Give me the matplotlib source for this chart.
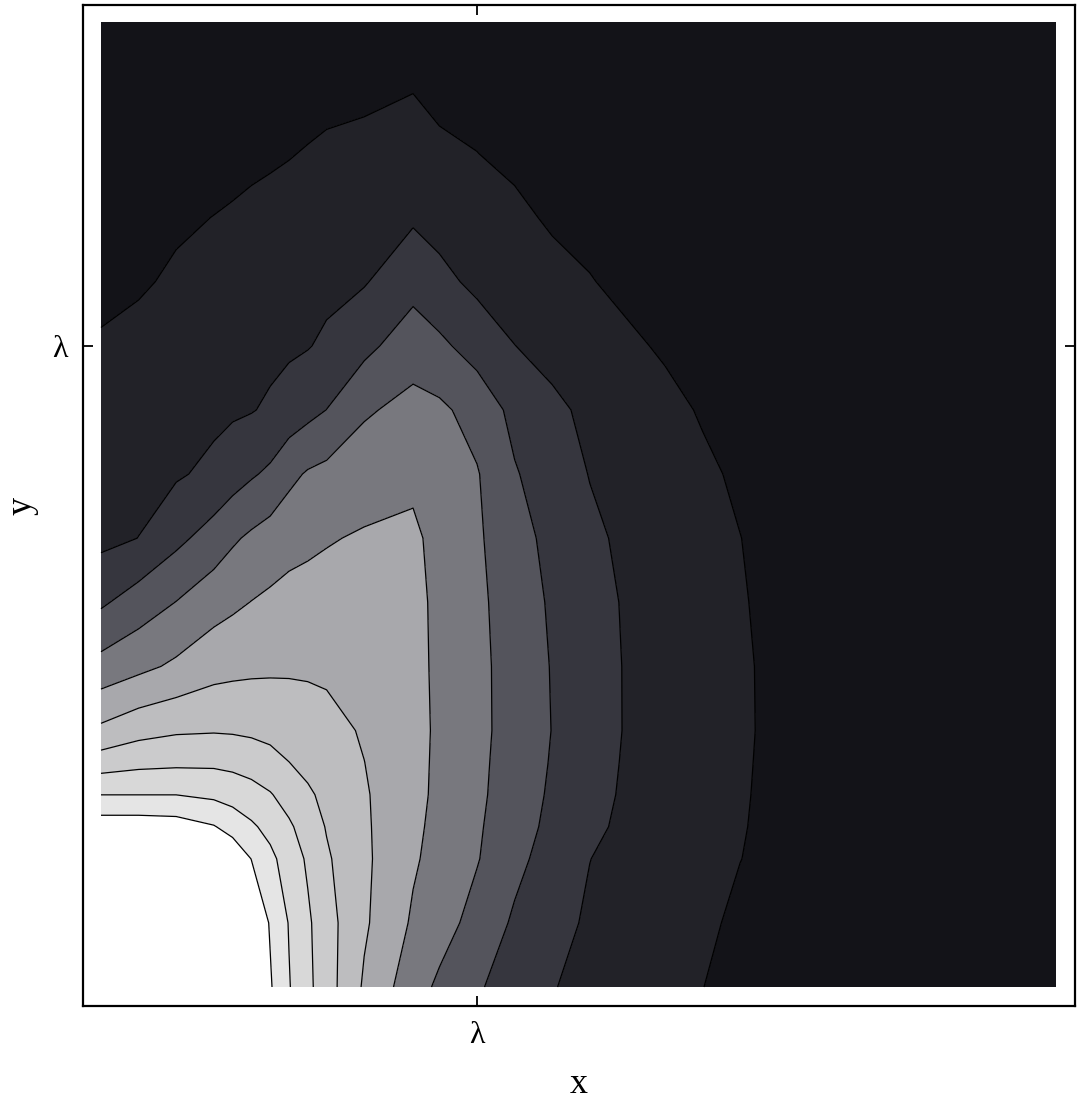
import numpy as np
import matplotlib
matplotlib.use("Agg")
import matplotlib.pyplot as plt

# grid positions in units of lambda
x_vals = [0, 0.1, 0.2, 0.3, 0.35, 0.4, 0.45, 0.5, 0.55, 0.6, 0.7, 0.83, 0.9,
          1.0, 1.1, 1.2, 1.3, 1.4, 1.5, 1.6, 1.7, 1.8, 2.0, 2.54]
y_vals = [0, 0.1, 0.2, 0.25, 0.3, 0.35, 0.4, 0.5, 0.6, 0.7, 0.8, 0.9, 1.0,
          1.1, 1.2, 1.3, 1.4, 1.505]

# field values (contour-level units), one list per y row
row_000 = [14, 14, 13.5, 13, 12.2, 11.1, 10.1, 9.06, 8.23, 7.44, 5.87, 4.42, 3.82, 3.11, 2.56, 2.04, 1.76, 1.51, 1.26, 1.01, 0.75, 0.6, 0.45, 0.3]
row_010 = [13.5, 13.5, 13, 12.5, 11.9, 10.92, 9.92, 8.95, 8.16, 7.38, 6.14, 4.87, 4.4, 3.66, 2.86, 2.29, 1.88, 1.63, 1.39, 1.15, 0.85, 0.65, 0.5, 0.3]
row_020 = [12.1, 12.1, 11.95, 11.4, 10.75, 9.98, 9.24, 8.54, 7.86, 7.13, 6.18, 5.12, 4.67, 4.06, 3.26, 2.60, 2.01, 1.75, 1.51, 1.26, 1.01, 0.8, 0.55, 0.3]
row_025 = [10.56, 10.56, 10.47, 10.06, 9.62, 9.15, 8.7, 8.15, 7.55, 6.94, 6.14, 5.2, 4.74, 4.12, 3.43, 2.76, 2.18, 1.82, 1.56, 1.31, 1.05, 0.8, 0.55, 0.3]
row_030 = [8.99, 8.99, 8.99, 8.8, 8.61, 8.38, 8.07, 7.6, 7.14, 6.77, 6.1, 5.26, 4.81, 4.19, 3.52, 2.86, 2.29, 1.87, 1.61, 1.34, 1.08, 0.8, 0.55, 0.3]
row_035 = [7.5, 7.73, 7.81, 7.82, 7.74, 7.58, 7.33, 7.01, 6.75, 6.5, 6.01, 5.26, 4.84, 4.22, 3.57, 2.93, 2.36, 1.9, 1.63, 1.36, 1.1, 0.81, 0.55, 0.3]
row_040 = [6.21, 6.67, 6.88, 6.93, 6.9, 6.83, 6.73, 6.6, 6.48, 6.33, 5.9, 5.27, 4.86, 4.25, 3.62, 2.98, 2.42, 1.93, 1.66, 1.39, 1.12, 0.82, 0.55, 0.3]
row_050 = [4.34, 4.75, 5.17, 5.63, 5.73, 5.8, 5.84, 5.86, 5.85, 5.81, 5.69, 5.21, 4.86, 4.25, 3.6, 2.95, 2.4, 1.93, 1.65, 1.38, 1.11, 0.82, 0.55, 0.3]
row_060 = [2.85, 3.47, 4.02, 4.6, 4.82, 5.02, 5.18, 5.31, 5.36, 5.38, 5.41, 5.2, 4.84, 4.21, 3.53, 2.87, 2.34, 1.9, 1.62, 1.34, 1.06, 0.8, 0.55, 0.3]
row_070 = [1.75, 2.01, 2.75, 3.43, 3.86, 4.17, 4.43, 4.67, 4.8, 4.93, 5.1, 5.15, 4.75, 4.14, 3.38, 2.72, 2.18, 1.82, 1.55, 1.27, 1.01, 0.75, 0.5, 0.3]
row_080 = [1.58, 1.73, 1.89, 2.22, 2.56, 2.89, 3.18, 3.75, 4.1, 4.27, 4.53, 4.83, 4.59, 4.07, 3.08, 2.49, 1.97, 1.69, 1.42, 1.14, 0.88, 0.7, 0.5, 0.3]
row_090 = [1.32, 1.47, 1.63, 1.79, 1.87, 1.95, 2.14, 2.42, 2.71, 3.01, 3.88, 4.29, 4.19, 3.63, 2.73, 2.19, 1.81, 1.52, 1.22, 0.93, 0.75, 0.62, 0.48, 0.3]
row_100 = [1.06, 1.2, 1.37, 1.53, 1.6, 1.68, 1.76, 1.85, 1.95, 2.17, 2.73, 3.57, 3.2, 2.6, 2.01, 1.71, 1.43, 1.14, 0.9, 0.75, 0.65, 0.55, 0.45, 0.3]
row_110 = [0.85, 0.92, 1.1, 1.26, 1.33, 1.41, 1.48, 1.56, 1.65, 1.75, 1.93, 2.64, 2.27, 1.78, 1.58, 1.30, 1.04, 0.8, 0.7, 0.62, 0.55, 0.5, 0.4, 0.3]
row_120 = [0.7, 0.78, 0.9, 1.01, 1.07, 1.15, 1.2, 1.25, 1.32, 1.4, 1.55, 1.88, 1.65, 1.45, 1.2, 0.88, 0.75, 0.65, 0.6, 0.55, 0.5, 0.45, 0.4, 0.3]
row_130 = [0.55, 0.6, 0.67, 0.75, 0.8, 0.85, 0.91, 0.97, 1.04, 1.12, 1.2, 1.42, 1.15, 1.01, 0.8, 0.7, 0.62, 0.57, 0.53, 0.5, 0.47, 0.44, 0.4, 0.3]
row_140 = [0.45, 0.5, 0.55, 0.6, 0.62, 0.65, 0.68, 0.72, 0.76, 0.8, 0.85, 0.97, 0.8, 0.7, 0.62, 0.57, 0.53, 0.5, 0.47, 0.45, 0.43, 0.41, 0.38, 0.3]
row_150 = [0.4, 0.43, 0.47, 0.5, 0.51, 0.53, 0.55, 0.57, 0.58, 0.6, 0.63, 0.65, 0.6, 0.55, 0.5, 0.47, 0.45, 0.43, 0.41, 0.4, 0.38, 0.36, 0.33, 0.3]

contour_levels = [1, 2, 3, 4, 5, 6, 7, 8, 9, 10]
band_colors = ["#131318", "#222228", "#36363e", "#54545c", "#78787e",
               "#a8a8ac", "#bdbdbf", "#cbcbcc", "#d8d8d8", "#e5e5e5", "#ffffff"]
x_tick_labels = ["λ"]
y_tick_labels = ["λ"]

Z = np.array([row_000, row_010, row_020, row_025, row_030, row_035, row_040,
              row_050, row_060, row_070, row_080, row_090, row_100, row_110,
              row_120, row_130, row_140, row_150])
X = np.array(x_vals)
Y = np.array(y_vals)

plt.rcParams['font.family'] = ['Liberation Serif', 'DejaVu Serif']

fig = plt.figure(figsize=(10.79, 10.99), dpi=100)
ax = fig.add_axes([83 / 1079, 1 - 1006 / 1099, 992 / 1079, 1001 / 1099])

fill_levels = [-1] + contour_levels + [100]
ax.contourf(X, Y, Z, levels=fill_levels, colors=band_colors)
ax.contour(X, Y, Z, levels=contour_levels, colors="black", linewidths=0.9)

ax.set_xlim(-18 / 376, 2.54 + 19 / 376)
ax.set_ylim(-19 / 641, 1.505 + 17 / 641)

ax.set_xticks([1.0])
ax.set_xticklabels(x_tick_labels, fontsize=23)
ax.set_yticks([1.0])
ax.set_yticklabels(y_tick_labels, fontsize=23)
ax.tick_params(direction="in", length=7, width=1.3, top=True, right=True,
               pad=11)
for s in ax.spines.values():
    s.set_linewidth(1.6)

ax.set_xlabel("x", fontsize=26)
ax.set_ylabel("y", fontsize=26)
ax.xaxis.set_label_coords(0.5, -0.062)
ax.yaxis.set_label_coords(-0.045, 0.5)

fig.savefig("out.png", dpi=100)
